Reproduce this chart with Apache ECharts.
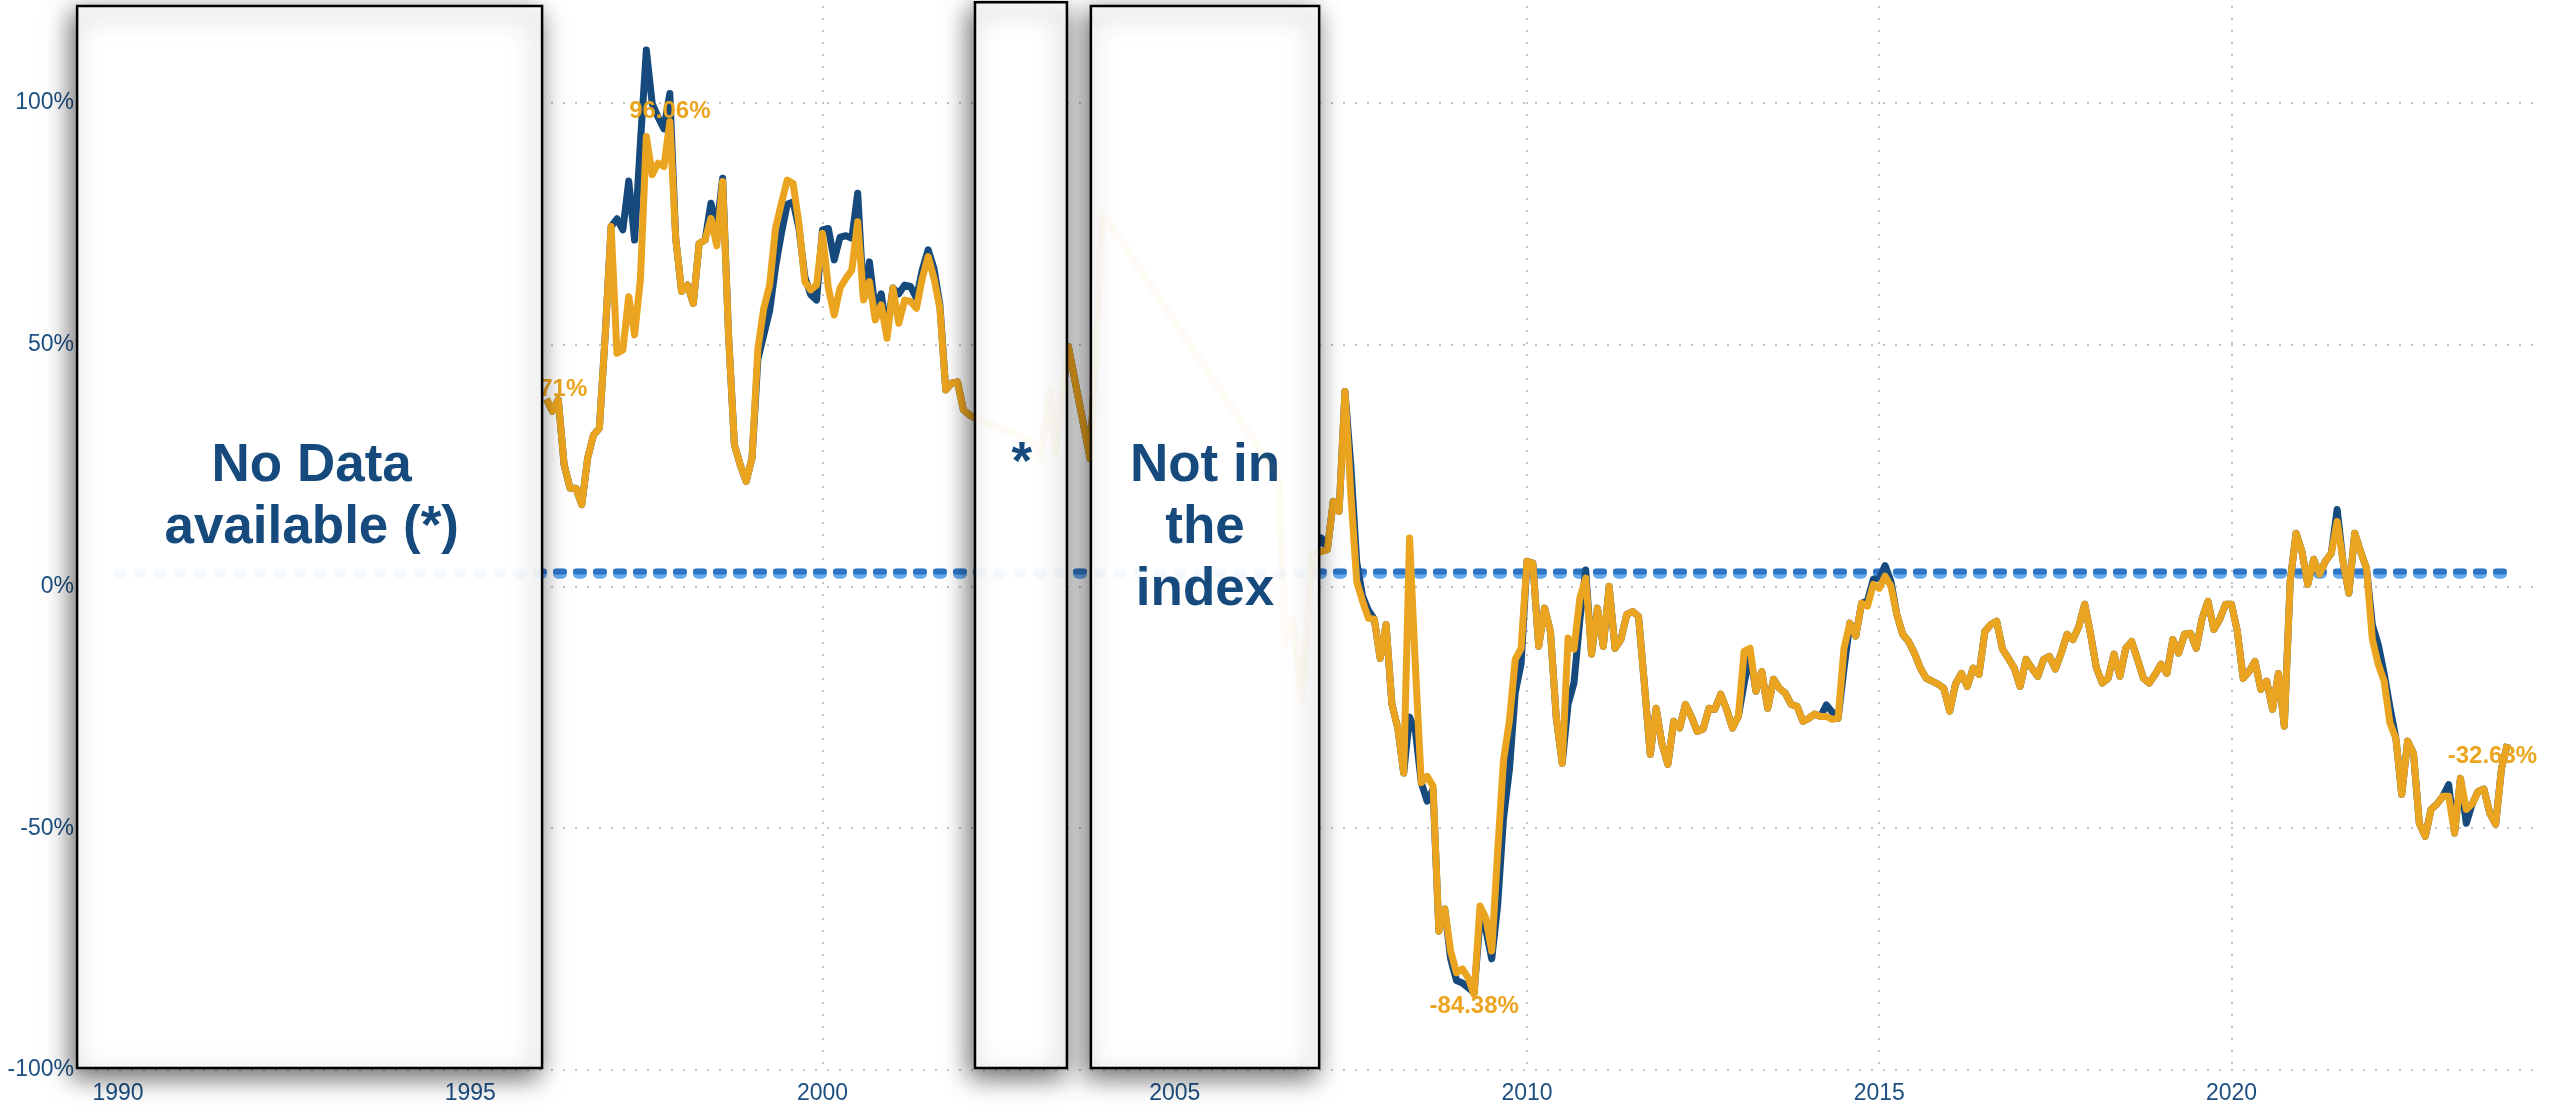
<!DOCTYPE html>
<html>
<head>
<meta charset="utf-8">
<title>Index vs benchmark</title>
<script src="https://cdn.jsdelivr.net/npm/echarts@6.0.0/dist/echarts.min.js"></script>
<style>
    html, body { margin: 0; padding: 0; background: #fff; }
    #chart { width: 2557px; height: 1107px; }
</style>
</head>
<body>
<div id="chart"></div>
<script>
// axis ticks
const xTicks = [1990, 1995, 2000, 2005, 2010, 2015, 2020];
const yTicks = [-100, -50, 0, 50, 100];

// monthly values (%), Jan 1996 .. Feb 2002
const indexFirst = [
    38.71, 36.2, 38.6, 25.1, 20.3, 20.3, 16.9, 26.5, 31.3, 32.7,
    52.0, 74.4, 48.2, 48.9, 59.9, 52.0, 63.7, 93.0, 85.1, 87.5,
    86.8, 96.06, 72.0, 61.0, 62.3, 58.5, 70.9, 71.6, 76.1, 70.4,
    83.7, 52.0, 29.3, 25.1, 21.7, 26.5, 49.2, 57.5, 62.3, 74.0,
    79.2, 84.0, 83.3, 74.9, 63.0, 61.3, 62.3, 73.0, 61.7, 56.1,
    61.7, 63.7, 65.4, 75.4, 59.2, 63.0, 55.1, 58.2, 51.3, 61.7,
    54.4, 59.2, 58.9, 57.5, 63.7, 68.2, 63.7, 57.5, 40.6, 42.0,
    42.3, 36.5, 35.5, 34.8
];
const benchFirst = [
    38.71, 36.2, 38.6, 25.1, 20.3, 20.3, 16.9, 26.5, 31.3, 32.7,
    52.0, 74.4, 76.0, 73.7, 83.8, 71.6, 92.0, 110.9, 99.8, 97.0,
    94.6, 101.9, 72.0, 61.0, 62.3, 58.5, 70.9, 71.6, 79.2, 74.0,
    84.4, 52.0, 29.3, 25.1, 21.7, 26.5, 47.0, 52.0, 57.0, 66.0,
    73.0, 79.0, 79.5, 74.0, 64.0, 60.3, 59.2, 73.7, 74.0, 67.5,
    72.2, 72.5, 72.0, 81.3, 59.6, 67.1, 57.0, 60.5, 52.6, 61.7,
    60.5, 62.3, 62.0, 59.6, 65.4, 69.6, 65.7, 58.2, 40.6, 42.0,
    42.3, 36.5, 35.5, 34.8
];

// sparse points between 2002 and 2007
const gapYears  = [2002.99, 2003.09, 2003.23, 2003.30, 2003.49, 2003.80, 2003.98, 2006.48, 2006.56, 2006.68, 2006.80, 2006.96];
const gapValues = [30.0, 26.4, 40.7, 27.3, 49.6, 26.4, 77.1, 22.3, -12.0, -6.6, -23.8, 6.6];

// monthly values (%), Jan 2007 .. Nov 2023
const indexLast = [
    7.2, 7.6, 17.6, 15.5, 40.3, 19.0, 1.0, -3.1, -6.6, -6.8,
    -14.9, -7.9, -24.4, -29.3, -38.6, 10.0, -16.7, -40.6, -39.3, -41.3,
    -71.3, -66.7, -75.4, -79.9, -79.1, -81.0, -84.38, -66.1, -68.6, -75.4,
    -55.0, -36.0, -27.9, -15.1, -12.8, 5.2, 4.8, -12.4, -4.5, -9.3,
    -27.3, -36.6, -10.7, -13.0, -2.5, 1.7, -14.0, -4.5, -12.4, 0.0,
    -12.8, -11.0, -5.8, -5.2, -6.2, -20.2, -34.7, -25.2, -32.6, -36.8,
    -27.9, -29.3, -24.4, -26.9, -30.0, -29.5, -25.2, -25.4, -22.3, -25.4,
    -29.3, -26.9, -13.4, -12.8, -21.7, -17.6, -25.2, -19.2, -21.1, -22.1,
    -24.4, -24.8, -27.9, -27.3, -26.4, -26.9, -26.9, -27.5, -27.3, -12.8,
    -7.6, -10.3, -3.5, -4.1, 0.4, -0.4, 2.1, 0.0, -5.8, -9.9,
    -11.4, -13.8, -16.9, -19.0, -19.6, -20.2, -21.1, -25.8, -20.2, -18.0,
    -20.7, -16.9, -18.2, -9.3, -7.9, -7.2, -13.0, -14.9, -16.9, -20.7,
    -15.1, -16.9, -18.6, -15.1, -14.5, -17.1, -13.8, -9.9, -11.0, -8.3,
    -3.7, -9.9, -16.9, -20.0, -19.0, -14.0, -18.6, -12.8, -11.4, -15.1,
    -19.0, -20.0, -18.2, -16.1, -18.0, -11.0, -13.8, -9.9, -9.7, -12.8,
    -6.6, -3.1, -8.9, -6.8, -3.7, -3.7, -9.3, -19.0, -17.6, -15.5,
    -21.3, -19.6, -25.4, -18.0, -28.9, 1.0, 11.0, 7.2, 0.4, 5.6,
    2.5, 5.2, 6.8, 13.4, 5.2, -1.4, 11.0, 7.2, 3.7, -11.0,
    -16.1, -19.6, -28.3, -31.4, -43.0, -32.0, -34.5, -49.0, -51.7, -46.1,
    -45.0, -43.4, -43.4, -51.0, -39.7, -46.1, -45.0, -42.4, -41.9, -46.9,
    -49.2, -37.6, -32.63
];
const benchLast = [
    10.0, 7.6, 17.6, 15.5, 40.3, 25.0, 5.0, -2.0, -5.0, -6.8,
    -14.9, -7.9, -24.4, -29.3, -38.6, -27.0, -30.0, -40.6, -44.4, -42.0,
    -71.3, -66.7, -77.0, -81.5, -82.0, -83.0, -84.0, -69.0, -71.0, -77.0,
    -66.0, -48.0, -38.0, -22.0, -16.0, 5.2, 4.8, -12.4, -4.5, -9.3,
    -27.3, -36.6, -24.4, -20.0, -7.0, 3.4, -14.0, -4.5, -12.4, 0.0,
    -12.8, -11.0, -5.8, -5.2, -6.2, -20.2, -34.7, -25.2, -32.6, -36.8,
    -27.9, -29.3, -24.4, -26.9, -30.0, -29.5, -25.2, -25.4, -22.3, -25.4,
    -29.3, -26.9, -20.0, -14.0, -21.7, -17.6, -25.2, -19.2, -21.1, -22.1,
    -24.4, -24.8, -27.9, -27.3, -26.4, -26.9, -24.5, -26.0, -27.3, -17.0,
    -7.6, -10.3, -3.5, -3.0, 1.5, 1.7, 4.3, 1.0, -5.8, -9.9,
    -11.4, -13.8, -16.9, -19.0, -19.6, -20.2, -21.1, -25.8, -20.2, -18.0,
    -20.7, -16.9, -18.2, -9.3, -7.9, -7.2, -13.0, -14.9, -16.9, -20.7,
    -15.1, -16.9, -18.6, -15.1, -14.5, -17.1, -13.8, -9.9, -11.0, -8.3,
    -3.7, -9.9, -16.9, -20.0, -19.0, -14.0, -18.6, -12.8, -11.4, -15.1,
    -19.0, -20.0, -18.2, -16.1, -18.0, -11.0, -13.8, -9.9, -9.7, -12.8,
    -6.6, -3.1, -8.9, -6.8, -3.7, -3.7, -9.3, -19.0, -17.6, -15.5,
    -21.3, -19.6, -25.4, -18.0, -28.9, 1.0, 11.0, 7.2, 0.4, 5.6,
    2.5, 5.2, 6.8, 15.9, 5.2, -1.4, 11.0, 7.2, 3.7, -8.0,
    -12.0, -18.0, -25.0, -31.4, -43.0, -32.0, -34.5, -49.0, -51.7, -46.1,
    -45.0, -43.4, -41.0, -51.0, -39.7, -49.0, -45.0, -42.4, -41.9, -46.9,
    -49.2, -37.6, -32.63
];

// reference level (dashed) and its span
const refLevel = 2.6;
const refSpan = [1990, 2024];

// annotation boxes, in axis units
const boxes = [
    { x0: 1989.42, x1: 1996.02, top: 120, bottom: -99.6 },
    { x0: 2002.165, x1: 2003.47, top: 120.8, bottom: -99.6 },
    { x0: 2003.81, x1: 2007.05, top: 120, bottom: -99.6 }
];
const notes = [
    { text: 'No Data\navailable (*)', x: 1992.75, y: 18.4 },
    { text: '*', x: 2002.83, y: 25.2 },
    { text: 'Not in\nthe\nindex', x: 2005.43, y: 11.9 }
];

const NAVY = '#164a7d';
const GOLD = '#eba51f';
const FONT = '"Liberation Sans", Arial, sans-serif';

function monthly(startYear, values) {
    return values.map((v, i) => [startYear + (i + 1) / 12, v]);
}
const gapPoints = gapYears.map((y, i) => [y, gapValues[i]]);

const indexData = monthly(1996, indexFirst).concat(gapPoints, monthly(2007, indexLast));
const benchData = monthly(1996, benchFirst).concat(gapPoints, monthly(2007, benchLast));
const refData = refSpan.map((x) => [x, refLevel]);
const refTopData = refSpan.map((x) => [x, refLevel + 0.45]);

// labelled points: first, max, min, last of the index
let iMax = 0, iMin = 0;
indexData.forEach((p, i) => {
    if (p[1] > indexData[iMax][1]) iMax = i;
    if (p[1] < indexData[iMin][1]) iMin = i;
});
const lastIdx = indexData.length - 1;
const marks = [
    { i: 0, position: 'top', distance: -2 },
    { i: iMax, position: 'top', distance: -2 },
    { i: iMin, position: 'bottom', distance: 0 },
    { i: lastIdx, position: 'bottom', distance: 0, offset: [-15, 0] }
].map((m) => ({
    coord: indexData[m.i],
    value: indexData[m.i][1],
    label: { position: m.position, distance: m.distance, offset: m.offset || [0, 0] }
}));

const gridLine = { type: [2, 10], color: '#c4c4c4', width: 2 };
const xMin = 1989.674, xMax = 2024.28;

const lightDash = { color: '#68aaef', width: 10, type: [4, 16], cap: 'round' };
const darkDash = { color: '#2b72c4', width: 6, type: [8, 12], dashOffset: 2, cap: 'round' };

const chart = echarts.init(document.getElementById('chart'));
chart.setOption({
    animation: false,
    backgroundColor: '#fff',
    grid: { left: 95, right: 24, top: 6, bottom: 37 },
    xAxis: {
        type: 'value',
        min: xMin,
        max: xMax,
        axisLine: { show: false },
        axisTick: { show: false, customValues: xTicks },
        axisLabel: {
            customValues: xTicks,
            formatter: (v) => String(v),
            color: '#1c4f82',
            fontSize: 23,
            fontFamily: FONT,
            margin: 12
        },
        splitLine: { show: true, lineStyle: gridLine }
    },
    yAxis: {
        type: 'value',
        min: -100,
        max: 120,
        interval: 50,
        axisLine: { show: false },
        axisTick: { show: false },
        axisLabel: {
            formatter: (v) => (yTicks.indexOf(v) >= 0 ? v + '%' : ''),
            showMaxLabel: false,
            color: '#1c4f82',
            fontSize: 23,
            fontFamily: FONT,
            margin: 21
        },
        splitLine: { show: true, showMaxLine: false, lineStyle: gridLine }
    },
    series: [
        { type: 'line', data: refData, symbol: 'none', silent: true, z: 1, lineStyle: lightDash },
        { type: 'line', data: refTopData, symbol: 'none', silent: true, z: 1, lineStyle: darkDash },
        {
            name: 'Benchmark',
            type: 'line',
            data: benchData,
            symbol: 'none',
            z: 2,
            lineStyle: { color: NAVY, width: 7, join: 'round' }
        },
        {
            name: 'Index',
            type: 'line',
            data: indexData,
            symbol: 'none',
            z: 3,
            lineStyle: { color: GOLD, width: 7, join: 'round' },
            markPoint: {
                symbol: 'circle',
                symbolSize: 0,
                silent: true,
                label: {
                    show: true,
                    formatter: (prm) => Number(prm.value).toFixed(2) + '%',
                    color: GOLD,
                    fontSize: 24,
                    fontWeight: 'bold',
                    fontFamily: FONT
                },
                data: marks
            }
        },
        // faint copies that show through the annotation boxes
        { type: 'line', data: refData, symbol: 'none', silent: true, z: 150,
          lineStyle: Object.assign({}, lightDash, { opacity: 0.06 }) },
        { type: 'line', data: indexData, symbol: 'none', silent: true, z: 150,
          lineStyle: { color: GOLD, width: 7, join: 'round', opacity: 0.05 } }
    ]
});

// boxes and notes drawn over the plot
const px = (x, y) => chart.convertToPixel({ gridIndex: 0 }, [x, y]);
const graphics = [];
boxes.forEach((b) => {
    const p0 = px(b.x0, b.top);
    const p1 = px(b.x1, b.bottom);
    graphics.push({
        type: 'rect',
        z: 100,
        silent: true,
        shape: { x: p0[0], y: p0[1], width: p1[0] - p0[0], height: p1[1] - p0[1] },
        style: {
            fill: '#fff',
            stroke: '#000',
            lineWidth: 2.5,
            shadowBlur: 24,
            shadowColor: 'rgba(0,0,0,0.6)',
            shadowOffsetX: -4,
            shadowOffsetY: 8
        }
    });
});
notes.forEach((n) => {
    const p = px(n.x, n.y);
    graphics.push({
        type: 'text',
        z: 101,
        silent: true,
        x: p[0],
        y: p[1],
        style: {
            text: n.text,
            fill: NAVY,
            fontSize: 53,
            fontWeight: 'bold',
            fontFamily: FONT,
            lineHeight: 62,
            align: 'center',
            verticalAlign: 'middle'
        }
    });
});
chart.setOption({ graphic: graphics });
</script>
</body>
</html>
